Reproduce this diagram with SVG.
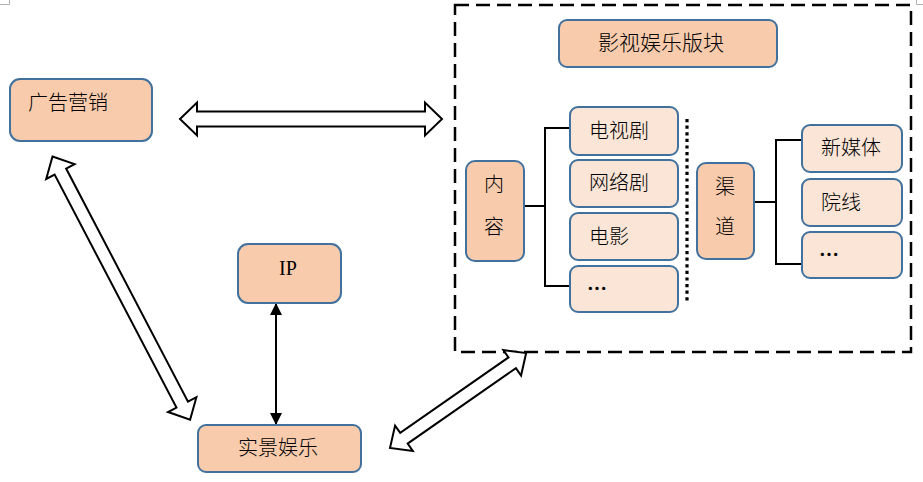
<svg xmlns="http://www.w3.org/2000/svg" width="923" height="482" viewBox="0 0 923 482">
<style>
.n{stroke:#41719C;stroke-width:2}
.d{fill:#F8CBAD}
.l{fill:#FBE5D6}
text{font-family:"Liberation Serif","Noto Sans CJK SC",serif;font-size:20px;fill:#000;font-weight:300}
.c{text-anchor:middle}
.el{font-family:"Noto Sans CJK SC",sans-serif;font-weight:700}
.ln{stroke:#000;stroke-width:2;fill:none}
.ba{fill:#fff;stroke:#000;stroke-width:2;stroke-linejoin:miter}
</style>
<defs>
<marker id="ah" viewBox="0 0 12 12" refX="11" refY="6" markerWidth="12" markerHeight="12" markerUnits="userSpaceOnUse" orient="auto-start-reverse">
<path d="M0,0 L12,6 L0,12 z" fill="#000"/>
</marker>
</defs>
<g id="corner-marks" stroke="#b0b0b0" stroke-width="1" fill="none">
<path d="M0,4.5 H9.5 V0"/>
<path d="M923,4.5 H916.5 V0"/>
</g>
<g id="frame">
<rect x="455" y="5" width="456" height="347" fill="none" stroke="#000" stroke-width="2.5" stroke-dasharray="14 7"/>
</g>
<g id="connectors">
<polygon class="ba" points="180,119 197,102.5 197,111.5 425,111.5 425,102.5 442,119 425,135.5 425,126.5 197,126.5 197,135.5"/>
<polygon class="ba" transform="translate(52.5,156.5) rotate(62.4)" points="0,0 17,-16 17,-6.5 280,-6.5 280,-16 297,0 280,16 280,6.5 17,6.5 17,16"/>
<polygon class="ba" transform="translate(390,448) rotate(-34.9)" points="0,0 17,-15.5 17,-6.5 149,-6.5 149,-15.5 166,0 149,15.5 149,6.5 17,6.5 17,15.5"/>
<line x1="276" y1="304" x2="276" y2="424" stroke="#000" stroke-width="2" marker-start="url(#ah)" marker-end="url(#ah)"/>
<path class="ln" d="M524,206 H545 M570,128 H545 V286 H570"/>
<path class="ln" d="M754,202 H776 M802,140 H776 V264 H802"/>
<line x1="687" y1="119" x2="687" y2="303" stroke="#000" stroke-width="3.2" stroke-dasharray="3.2 3.4"/>
</g>
<g id="ad">
<rect class="n d" x="10" y="79" width="142" height="62" rx="10"/>
<text x="28" y="110">广告营销</text>
</g>
<g id="film-tv">
<rect class="n d" x="559" y="20" width="218" height="47" rx="8"/>
<text x="598" y="50" style="font-size:21px">影视娱乐版块</text>
</g>
<g id="content">
<rect class="n d" x="466" y="161" width="58" height="100" rx="9"/>
<text class="c" x="494" y="192">内</text>
<text class="c" x="494" y="234">容</text>
</g>
<g id="tv-series">
<rect class="n l" x="570" y="107" width="108" height="48" rx="8"/>
<text x="589" y="138">电视剧</text>
</g>
<g id="web-series">
<rect class="n l" x="570" y="160" width="108" height="47" rx="8"/>
<text x="589" y="190">网络剧</text>
</g>
<g id="movie">
<rect class="n l" x="570" y="213" width="108" height="47" rx="8"/>
<text x="589" y="244">电影</text>
</g>
<g id="content-more">
<rect class="n l" x="570" y="266" width="108" height="46" rx="8"/>
<text class="el" x="587" y="296">…</text>
</g>
<g id="channel">
<rect class="n d" x="697" y="163" width="57" height="96" rx="9"/>
<text class="c" x="725" y="194">渠</text>
<text class="c" x="725" y="234">道</text>
</g>
<g id="new-media">
<rect class="n l" x="802" y="125" width="100" height="47" rx="8"/>
<text x="821" y="155">新媒体</text>
</g>
<g id="cinema">
<rect class="n l" x="802" y="179" width="100" height="47" rx="8"/>
<text x="821" y="210">院线</text>
</g>
<g id="channel-more">
<rect class="n l" x="802" y="232" width="100" height="46" rx="8"/>
<text class="el" x="819" y="262">…</text>
</g>
<g id="ip">
<rect class="n d" x="238" y="244" width="103" height="59" rx="10"/>
<text class="c" x="288" y="275">IP</text>
</g>
<g id="live-ent">
<rect class="n d" x="198" y="425" width="163" height="47" rx="8"/>
<text class="c" x="278" y="455">实景娱乐</text>
</g>
</svg>
